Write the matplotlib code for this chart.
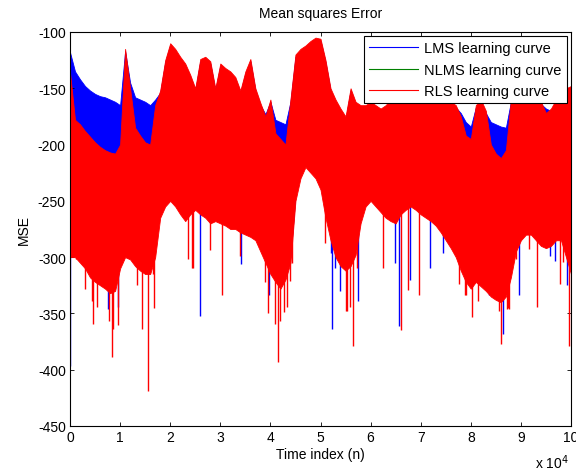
import numpy as np
import matplotlib
matplotlib.use('Agg')
import matplotlib.pyplot as plt

plt.rcParams['font.family'] = ['Liberation Sans', 'DejaVu Sans']
plt.rcParams['axes.unicode_minus'] = False

# time index of envelope samples (every 1000 samples)
n_idx = np.arange(0, 100001, 1000)

# RLS learning curve envelope (upper / lower of the dense band)
rls_hi = [-136, -178, -182, -188, -193, -198, -202, -205, -207, -208,
          -200, -115, -150, -185, -192, -198, -200, -165, -152, -125,
          -110, -115, -122, -128, -138, -150, -124, -122, -126, -150,
          -128, -132, -135, -140, -152, -135, -124, -150, -163, -175,
          -160, -190, -195, -200, -160, -120, -115, -112, -108, -105,
          -106, -125, -150, -160, -168, -175, -150, -162, -165, -165,
          -162, -165, -168, -165, -160, -158, -155, -155, -155, -155,
          -155, -155, -155, -155, -158, -160, -162, -165, -175, -192,
          -195, -165, -160, -170, -200, -208, -212, -205, -160, -155,
          -155, -155, -155, -158, -162, -172, -168, -160, -155, -150, -148]
rls_lo = [-300, -300, -305, -310, -318, -322, -325, -328, -332, -330,
          -310, -300, -302, -308, -312, -315, -315, -300, -265, -255,
          -250, -255, -262, -268, -262, -258, -262, -265, -270, -268,
          -270, -272, -275, -275, -278, -280, -282, -285, -295, -305,
          -315, -322, -328, -320, -305, -250, -230, -220, -225, -230,
          -240, -265, -285, -300, -308, -312, -308, -298, -270, -255,
          -250, -255, -260, -265, -268, -270, -262, -258, -255, -258,
          -262, -265, -268, -272, -278, -285, -292, -300, -312, -322,
          -328, -322, -326, -330, -335, -338, -340, -335, -318, -295,
          -285, -280, -280, -285, -290, -292, -290, -285, -285, -300, -315]

# LMS learning curve envelope
lms_hi = [-118, -135, -142, -148, -152, -155, -157, -158, -160, -162,
          -165, -117, -145, -158, -160, -162, -165, -160, -154, -127,
          -112, -117, -124, -130, -140, -152, -126, -124, -128, -152,
          -130, -134, -137, -142, -154, -137, -126, -152, -165, -173,
          -162, -178, -180, -182, -162, -122, -117, -114, -110, -107,
          -108, -127, -152, -162, -170, -178, -152, -164, -167, -167,
          -164, -167, -170, -167, -162, -160, -157, -157, -157, -157,
          -157, -157, -157, -157, -160, -162, -164, -167, -172, -180,
          -184, -167, -162, -172, -180, -182, -184, -185, -162, -157,
          -157, -157, -157, -160, -164, -168, -170, -162, -157, -152, -150]
lms_lo = [-295, -295, -300, -305, -312, -316, -318, -322, -326, -325,
          -305, -295, -298, -302, -306, -300, -290, -285, -260, -250,
          -245, -250, -257, -263, -257, -253, -257, -260, -265, -263,
          -265, -267, -270, -270, -273, -275, -277, -280, -290, -300,
          -310, -318, -322, -315, -300, -245, -225, -215, -220, -225,
          -235, -260, -280, -296, -304, -306, -302, -292, -265, -250,
          -245, -250, -255, -260, -263, -265, -257, -253, -250, -253,
          -257, -260, -263, -267, -273, -280, -287, -295, -306, -316,
          -322, -316, -320, -324, -328, -332, -334, -330, -312, -290,
          -280, -275, -275, -280, -285, -287, -285, -280, -280, -295, -310]

# isolated deep dips (sample index, value)
rls_spike_n = [1200, 3000, 4400, 4650, 5400, 6600, 7800, 8400, 8600, 9600,
               13400, 14400, 15600, 16500, 16800, 23600, 24400, 24600, 28000,
               30300, 34000, 39000, 39500, 40900, 41600, 42000, 42700, 43300,
               44000, 44300, 50900, 55000, 55300, 55800, 56400, 57200, 62500,
               66000, 67500, 69700, 77700, 78800, 79000, 80200, 81500, 84500,
               85700, 86000, 87200, 87500, 87700, 89000, 91600, 93200, 97800,
               98500, 99600]
rls_spike_v = [-302, -328, -339, -359, -344, -325, -357, -389, -364, -360,
               -325, -364, -419, -315, -345, -302, -310, -310, -294,
               -334, -299, -322, -350, -359, -393, -357, -349, -344,
               -321, -305, -287, -348, -348, -344, -379, -310, -310,
               -365, -329, -334, -324, -334, -334, -353, -339, -330,
               -348, -377, -346, -345, -346, -302, -293, -344, -324,
               -304, -379]
lms_spike_n = [0, 7600, 9600, 10300, 26000, 34200, 38500, 39800, 52000,
               52200, 52800, 53900, 57400, 64900, 65700, 67900, 71900,
               74400, 83700, 86500, 89600, 95800, 96800, 99200]
lms_spike_v = [-397, -346, -344, -299, -352, -306, -291, -334, -296,
               -364, -310, -330, -339, -305, -361, -320, -310,
               -296, -334, -368, -334, -299, -303, -325]

fig = plt.figure(figsize=(5.76, 4.77), dpi=100)
ax = fig.add_axes([70 / 576, 1 - 427 / 477, 501 / 576, 394 / 477])

# LMS first, RLS drawn on top (as in the original plot order)
ax.fill_between(n_idx, lms_lo, lms_hi, color='blue', lw=0.6, edgecolor='blue', zorder=1)
ax.vlines(lms_spike_n, lms_spike_v, -240, color='blue', lw=1.0, zorder=1.5)
ax.fill_between(n_idx, rls_lo, rls_hi, color='red', lw=0.6, edgecolor='red', zorder=2)
ax.vlines(rls_spike_n, rls_spike_v, -240, color='red', lw=1.0, zorder=2.5)

# legend handles
ax.plot([], [], color='blue', lw=0.8, label='LMS learning curve')
ax.plot([], [], color='green', lw=0.8, label='NLMS learning curve')
ax.plot([], [], color='red', lw=0.8, label='RLS learning curve')

ax.set_xlim(0, 100000)
ax.set_ylim(-450, -100)
ax.set_xticks(np.arange(0, 100001, 10000))
ax.set_xticklabels([str(i) for i in range(11)])
ax.set_yticks(np.arange(-450, -99, 50))
ax.tick_params(direction='in', top=True, right=True, labelsize=10, length=3, width=0.6, pad=3)
for s in ax.spines.values():
    s.set_linewidth(0.8)

ax.set_title('Mean squares Error', fontsize=10, pad=11)
ax.set_xlabel('Time index (n)', fontsize=10, labelpad=2)
ax.set_ylabel('MSE', fontsize=10, labelpad=5)
fig.text(535 / 576, 1 - 469 / 477, r'x 10$^4$', fontsize=10, va='baseline')

leg = ax.legend(loc='upper right', fontsize=10.5, frameon=True, fancybox=False,
                edgecolor='black', framealpha=1, handlelength=3.4, handletextpad=0.4,
                labelspacing=0.5, borderaxespad=0.3, borderpad=0.35)
leg.get_frame().set_linewidth(0.8)

fig.savefig('out.png', dpi=100)
